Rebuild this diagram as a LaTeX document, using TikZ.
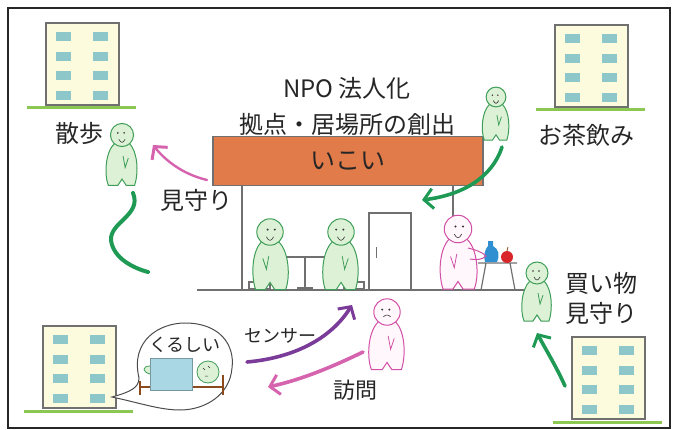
\documentclass[tikz,border=0pt]{standalone}
\usepackage{fontspec}
\setmainfont{Noto Sans CJK JP}
\usetikzlibrary{arrows.meta}

\definecolor{mintfill}{HTML}{DDF1D6}
\definecolor{mintline}{HTML}{3E9E58}
\definecolor{pinkline}{HTML}{D24FA5}
\definecolor{pinkfill}{HTML}{FFF7FC}
\definecolor{signfill}{HTML}{E27B4A}
\definecolor{wallgray}{HTML}{707070}
\definecolor{housefill}{HTML}{FDFBDD}
\definecolor{windowfill}{HTML}{8DC7CA}
\definecolor{grass}{HTML}{8CC751}
\definecolor{walkgreen}{HTML}{1E9A55}
\definecolor{visitpink}{HTML}{D563AE}
\definecolor{sensorpurple}{HTML}{7B3B98}
\definecolor{blanket}{HTML}{A9D8E4}
\definecolor{bedbrown}{HTML}{8A4A1E}
\definecolor{bottleblue}{HTML}{2F8FD0}
\definecolor{applered}{HTML}{D8262A}

\begin{document}
\begin{tikzpicture}
		[x=1pt,y=-1pt,
		label/.style={text=black!85,inner sep=0pt,font=\fontsize{24}{30}\selectfont},
		smalllabel/.style={text=black!85,inner sep=0pt,font=\fontsize{18}{22}\selectfont},
		signbox/.style={draw=wallgray,line width=1.5pt,fill=signfill,inner sep=0pt,
minimum width=270pt,minimum height=49pt,text=black!85,font=\fontsize{25}{25}\selectfont},
		wall/.style={wallgray,line width=1.6pt},
		flow/.style={line width=3.6pt,line cap=round,
-{Straight Barb[length=9pt,width=20pt,line width=3pt]}},
		pics/flats/.style={code={
			\draw[draw=wallgray,fill=housefill,line width=1.2pt] (0,0) rectangle (73,82);
			\foreach \wx in {10,47}
				\foreach \wy in {9,29,48,68}
					\fill[windowfill] (\wx,\wy) rectangle ++(15,9);
			\draw[grass,line width=3pt] (-19,85) -- (90,85);
		}},
		pics/guy/.style n args={3}{code={
			\draw[#1,fill=#2,line width=1pt] (-7,8) .. controls (-16,16) and (-17,38) .. (-13,48)
				-- (-4,48) -- (0,42) -- (4,48) -- (12,48) .. controls (16,36) and (15,16) .. (7,8);
			\draw[#1,line width=0.8pt] (1,20) -- (3,31) -- (6,22);
			\draw[#1,fill=#2,line width=1pt] (0,0) circle (11);
			\fill[black!80] (-4,-2) circle (0.9) (2,-2) circle (0.9);
			\draw[black!80,line width=0.6pt] (-3,4) .. controls (-1,#3) and (1,#3) .. (3,4);
		}}]
	\useasboundingbox (0,0) rectangle (679,430);
	\draw[black!85,line width=2pt] (8,8) rectangle (670,428);

	\pic at (46,23) {flats};
	\pic at (555,25) {flats};
	\pic at (43,326) {flats};
	\pic at (572,337) {flats};

	% the shop
	\draw[wall] (197,290) -- (528,290);
	\draw[wall] (242,186) -- (242,290);
	\draw[wall] (453,186) -- (453,290);
	\node at (348,161) (sign) [signbox] {いこい};
	\node at (347,88) (npo) [label] {NPO 法人化};
	\node at (347,124) (base) [label] {拠点・居場所の創出};
	\draw[wallgray,line width=1.2pt] (369,290) -- (369,213) -- (411,213) -- (411,290);
	\draw[wallgray,line width=1pt] (376,247) -- (376,258);
	\draw[wall] (286,257) -- (325,257) (305,257) -- (305,288);
	\draw[wallgray,line width=2.5pt] (297,288) -- (313,288);
	\draw[wallgray,fill=white,line width=1.2pt] (249,282) rectangle (270,289);
	\draw[wallgray,fill=white,line width=1.2pt] (344,282) rectangle (364,289);
	\pic[xscale=-1.2,yscale=1.2] at (270,232) {guy={mintline}{mintfill}{8}};
	\pic[scale=1.2] at (341,232) {guy={mintline}{mintfill}{8}};

	% counter with goods
	\draw[wallgray,line width=1.2pt] (478,263) -- (517,263) (486,263) -- (481,290) (510,263) -- (515,290);
	\fill[bottleblue] (488,241) -- (493,241) -- (493,246) .. controls (499,249) and (500,256) .. (497,262)
		-- (485,262) .. controls (483,256) and (485,249) .. (488,246) -- cycle;
	\fill[applered] (507,257) circle (6);
	\draw[bedbrown,line width=0.8pt] (507,251) -- (508,247);
	\pic[xscale=-1.25,yscale=1.25] at (458,229) {guy={pinkline}{pinkfill}{8}};
	\draw[pinkline,line width=1pt] (468,248) .. controls (476,250) and (482,252) .. (486,256)
		.. controls (482,260) and (476,260) .. (470,259);

	% people around the town
	\pic[scale=1.05] at (122,135) {guy={mintline}{mintfill}{8}};
	\node at (79,133) (walk) [label] {散歩};
	\node at (196,200) (watch) [label] {見守り};
	\pic[scale=0.9] at (496,97) {guy={mintline}{mintfill}{8}};
	\node at (586,135) (tea) [label] {お茶飲み};
	\pic at (537,273) {guy={mintline}{mintfill}{8}};
	\node at (601,298) (shop) [label,align=center] {買い物\\見守り};
	\pic[scale=1.2] at (387,312) {guy={pinkline}{pinkfill}{2}};
	\node at (280,336) (sensor) [smalllabel] {センサー};
	\node at (355,390) (visit) [label,font=\fontsize{22}{22}\selectfont] {訪問};

	% speech bubble from the flat
	\coordinate (window) at (112,397);
	\draw[black!70,fill=white,line width=1pt] (window) .. controls (130,392) and (139,388) .. (139,378)
		.. controls (130,340) and (160,323) .. (185,323) .. controls (220,323) and (235,345) .. (232,368)
		.. controls (230,395) and (205,410) .. (180,410) .. controls (160,410) and (140,403) .. (window) -- cycle;
	\node at (185,345) (pain) [smalllabel] {くるしい};
	\draw[bedbrown,line width=1.5pt] (140,381) -- (140,395) (140,387) -- (223,387) (223,375) -- (223,395);
	\draw[mintline,fill=mintfill,line width=0.8pt] (150,366) .. controls (142,366) and (142,372) .. (150,374);
	\draw[mintline,fill=mintfill,line width=0.8pt] (208,372) circle (11);
	\draw[black!80,line width=0.5pt] (203,368) -- (205,370) (208,366) -- (210,368) (205,376) -- (208,376);
	\fill[blanket,draw=blanket!70!black,line width=0.4pt] (150,358) rectangle (192,390);

	% arrows
	\coordinate (watchfrom) at (207,180);
	\coordinate (watchto) at (153,145);
	\draw[flow,visitpink,line width=2.4pt] (watchfrom) .. controls (182,174) and (165,160) .. (watchto);
	\coordinate (pathtop) at (133,193);
	\coordinate (pathend) at (148,272);
	\draw[walkgreen,line width=4pt,line cap=round] (pathtop) .. controls (142,215) and (110,222) .. (111,240)
		.. controls (113,258) and (133,268) .. (pathend);
	\coordinate (teafrom) at (502,147);
	\coordinate (teato) at (422,200);
	\draw[flow,walkgreen] (teafrom) .. controls (492,178) and (462,195) .. (teato);
	\coordinate (shopfrom) at (565,386);
	\coordinate (shopto) at (537,333);
	\draw[flow,walkgreen] (shopfrom) .. controls (556,366) and (546,350) .. (shopto);
	\coordinate (sensorfrom) at (247,362);
	\coordinate (sensorto) at (352,305);
	\draw[flow,sensorpurple] (sensorfrom) .. controls (292,358) and (330,340) .. (sensorto);
	\coordinate (visitfrom) at (363,352);
	\coordinate (visitto) at (268,387);
	\draw[flow,visitpink] (visitfrom) .. controls (330,368) and (300,380) .. (visitto);
\end{tikzpicture}
\end{document}
